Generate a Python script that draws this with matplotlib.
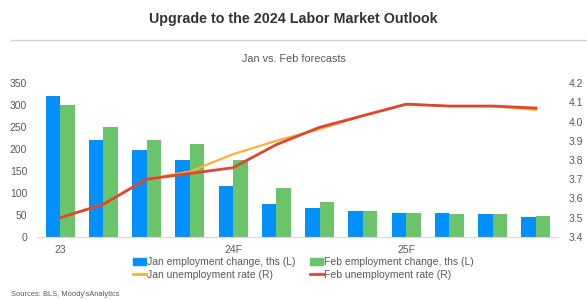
import matplotlib
matplotlib.use("Agg")
import matplotlib.pyplot as plt
from matplotlib.lines import Line2D
from matplotlib.patches import Patch
import numpy as np

plt.rcParams['font.family'] = ['Liberation Sans', 'DejaVu Sans']

periods = ["23", "", "", "", "24F", "", "", "", "25F", "", "", ""]
jan_emp = [320, 221, 198, 174, 117, 75, 66, 58, 55, 54, 52, 45]
feb_emp = [300, 249, 221, 211, 175, 111, 80, 58, 55, 52, 52, 47]
jan_rate = [3.50, 3.57, 3.70, 3.74, 3.83, 3.90, 3.96, 4.03, 4.09, 4.08, 4.08, 4.06]
feb_rate = [3.50, 3.57, 3.70, 3.73, 3.76, 3.88, 3.97, 4.03, 4.09, 4.08, 4.08, 4.07]

C_JAN = "#0091FF"
C_FEB = "#6CC46A"
C_JANR = "#F5B335"
C_FEBR = "#E0462F"
TXT = "#595959"

fig = plt.figure(figsize=(5.87, 3.0), dpi=100)
ax = fig.add_axes([38.4/587, 1-237/300, (557.6-38.4)/587, (237-83)/300])
x = np.arange(len(periods))
w = 0.335
ax.bar(x - w/2, jan_emp, w, color=C_JAN, zorder=2)
ax.bar(x + w/2, feb_emp, w, color=C_FEB, zorder=2)
ax.set_ylim(0, 350)
ax.set_xlim(-0.5, len(periods) - 0.5)
ax.set_yticks(range(0, 351, 50))
ax.set_xticks(x)
ax.set_xticklabels(periods)
for s in ["top", "right", "left"]:
    ax.spines[s].set_visible(False)
ax.spines["bottom"].set_color("#D9D9D9")
ax.tick_params(axis="both", length=0, labelsize=7.5, colors=TXT)
ax.tick_params(axis="y", pad=8)
ax.tick_params(axis="x", pad=6)

ax2 = ax.twinx()
ax2.plot(x, jan_rate, color=C_JANR, lw=1.6, zorder=3)
ax2.plot(x, feb_rate, color=C_FEBR, lw=2.0, zorder=4)
ax2.set_ylim(3.4, 4.2)
ax2.set_yticks(np.round(np.arange(3.4, 4.21, 0.1), 1))
ax2.yaxis.set_major_formatter(matplotlib.ticker.FormatStrFormatter("%.1f"))
for s in ax2.spines.values():
    s.set_visible(False)
ax2.tick_params(axis="y", length=0, labelsize=7.5, colors=TXT, pad=8)

fig.text(0.5, 1-19/300, "Upgrade to the 2024 Labor Market Outlook", ha="center", va="center",
         fontsize=10.3, fontweight="bold", color="#333333")
fig.add_artist(Line2D([11/587, 1], [1-40/300, 1-40/300], color="#D0D0D0", lw=1))
fig.text(0.5, 1-59/300, "Jan vs. Feb forecasts", ha="center", va="center", fontsize=7.8, color=TXT)

handles = [Patch(color=C_JAN), Patch(color=C_FEB),
           Line2D([], [], color=C_JANR, lw=2), Line2D([], [], color=C_FEBR, lw=2)]
labels = ["Jan employment change, ths (L)", "Feb employment change, ths (L)",
          "Jan unemployment rate (R)", "Feb unemployment rate (R)"]
order = [0, 2, 1, 3]
leg = fig.legend([handles[i] for i in order], [labels[i] for i in order], ncol=2,
                 loc="center left", bbox_to_anchor=(128/587, 1-268.5/300), frameon=False,
                 fontsize=7.5, handlelength=1.2, handleheight=0.6, handletextpad=0.1,
                 columnspacing=1.45, labelspacing=0.2, borderpad=0)
for t in leg.get_texts():
    t.set_color(TXT)

fig.text(11/587, 1-295/300, "Sources: BLS, Moody'sAnalytics", ha="left", va="center",
         fontsize=5.4, color=TXT)

fig.savefig("out.png", dpi=100)
